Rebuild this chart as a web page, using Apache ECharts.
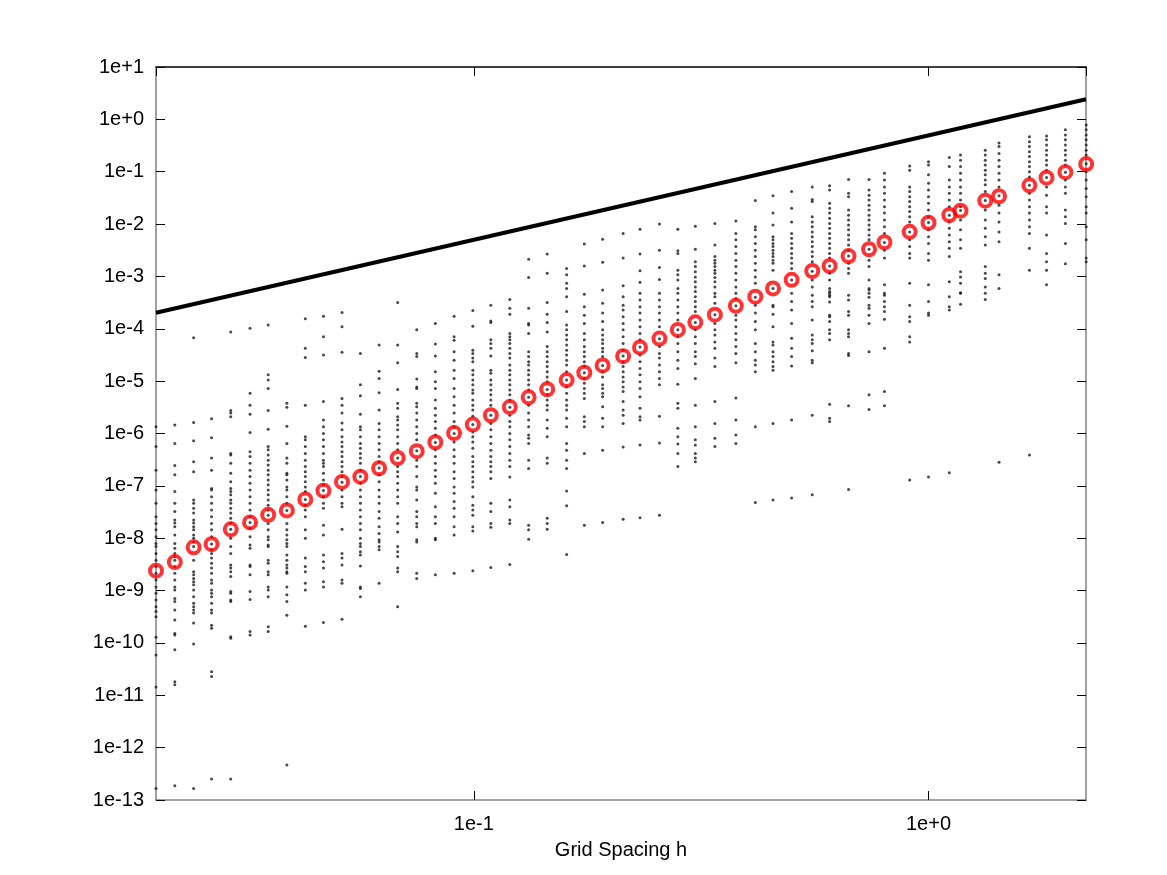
<!DOCTYPE html>
<html><head><meta charset="utf-8">
<script src="https://cdn.jsdelivr.net/npm/echarts@6/dist/echarts.min.js"></script>
<style>html,body{margin:0;padding:0;background:#fff}#c{width:1167px;height:875px}</style>
</head><body><div id="c"></div><script>
// Grid spacing h of each sample column
const gridSpacing = [0.0200,0.0220,0.0242,0.0265,0.0292,0.0322,0.0353,0.0388,0.0426,0.0467,
  0.0513,0.0563,0.0619,0.0680,0.0749,0.0823,0.0905,0.0995,0.109,0.120,
  0.132,0.145,0.160,0.175,0.192,0.213,0.232,0.256,0.281,0.307,
  0.339,0.377,0.416,0.455,0.500,0.555,0.606,0.667,0.740,0.800,
  0.909,1.000,1.111,1.176,1.333,1.429,1.667,1.818,2.000,2.222];
// Red circles: typical error per column
const typicalError = [2.4e-9,3.5e-9,6.7e-9,7.7e-9,1.48e-8,2.0e-8,2.8e-8,3.4e-8,5.5e-8,8.1e-8,
  1.19e-7,1.5e-7,2.17e-7,3.4e-7,4.6e-7,6.8e-7,1.02e-6,1.48e-6,2.23e-6,3.2e-6,
  4.9e-6,7.0e-6,1.05e-5,1.45e-5,2.0e-5,3.0e-5,4.4e-5,6.5e-5,9.5e-5,1.33e-4,
  1.86e-4,2.75e-4,4.1e-4,5.9e-4,8.6e-4,1.27e-3,1.58e-3,2.45e-3,3.3e-3,4.5e-3,
  7.1e-3,1.06e-2,1.49e-2,1.8e-2,2.8e-2,3.4e-2,5.5e-2,7.7e-2,9.8e-2,0.14];
// Individual sample errors, as powers of ten, one list per column
const sampleExponents = [
 [-5.87,-6.25,-6.70,-7.08,-7.33,-7.59,-7.72,-7.84,-7.97,-8.10,-8.16,-8.29,-8.42,-8.54,-8.67,-8.80,-8.93,-9.05,-9.18,-9.31,-9.40,-9.50,-9.89,-10.23,-10.84,-12.78],
 [-5.84,-6.19,-6.61,-6.79,-7.11,-7.33,-7.49,-7.65,-7.71,-7.78,-7.94,-8.10,-8.19,-8.29,-8.35,-8.42,-8.54,-8.67,-8.80,-8.93,-8.99,-9.15,-9.21,-9.37,-9.56,-9.82,-9.85,-10.13,-10.74,-10.80,-12.73],
 [-4.17,-5.79,-6.14,-6.54,-6.73,-7.27,-7.33,-7.43,-7.52,-7.65,-7.71,-7.78,-7.84,-7.94,-8.00,-8.07,-8.16,-8.42,-8.64,-8.70,-8.77,-8.83,-8.89,-8.99,-9.12,-9.24,-9.31,-9.37,-9.43,-9.62,-10.02,-12.78],
 [-5.72,-6.08,-6.47,-6.70,-7.05,-7.08,-7.21,-7.33,-7.46,-7.59,-7.72,-7.84,-7.97,-8.11,-8.22,-8.29,-8.38,-8.48,-8.57,-8.67,-8.80,-8.86,-8.99,-9.05,-9.12,-9.24,-9.37,-9.43,-9.66,-9.72,-10.55,-10.64,-12.60],
 [-4.06,-5.56,-5.61,-5.68,-6.38,-6.41,-6.57,-6.76,-6.92,-7.05,-7.11,-7.17,-7.27,-7.33,-7.43,-7.52,-7.62,-7.71,-7.83,-8.00,-8.16,-8.29,-8.51,-8.57,-8.64,-8.73,-9.02,-9.05,-9.18,-9.21,-9.88,-9.91,-12.60],
 [-3.99,-5.23,-5.46,-5.63,-5.98,-6.35,-6.44,-6.57,-6.70,-6.82,-6.95,-7.08,-7.21,-7.33,-7.46,-7.59,-7.70,-7.81,-7.97,-8.13,-8.19,-8.51,-8.54,-8.70,-9.02,-9.17,-9.78,-9.85],
 [-3.93,-4.88,-4.98,-5.14,-5.56,-5.92,-6.25,-6.31,-6.41,-6.51,-6.60,-6.70,-6.79,-6.89,-6.98,-7.08,-7.17,-7.27,-7.37,-7.46,-7.56,-7.72,-7.84,-7.97,-8.03,-8.13,-8.16,-8.42,-8.48,-8.64,-8.70,-8.93,-8.99,-9.12,-9.69,-9.78],
 [-5.42,-5.50,-5.86,-6.19,-6.47,-6.57,-6.76,-6.79,-6.89,-7.02,-7.08,-7.21,-7.33,-7.47,-7.72,-7.84,-7.94,-8.03,-8.10,-8.16,-8.32,-8.42,-8.51,-8.57,-8.64,-8.67,-8.93,-9.08,-9.21,-9.47,-12.33],
 [-3.81,-4.37,-4.55,-5.46,-6.06,-6.12,-6.25,-6.38,-6.51,-6.63,-6.73,-6.82,-6.92,-7.02,-7.11,-7.26,-7.37,-7.46,-7.59,-7.84,-8.00,-8.38,-8.54,-8.64,-8.86,-8.99,-9.68],
 [-3.76,-4.15,-4.50,-5.39,-5.74,-5.87,-6.00,-6.12,-6.25,-6.38,-6.51,-6.57,-6.63,-6.76,-6.89,-6.98,-7.09,-7.21,-7.33,-7.43,-7.75,-7.94,-8.32,-8.45,-8.57,-8.83,-8.93,-9.61],
 [-3.69,-3.96,-4.45,-5.33,-5.46,-5.61,-5.80,-5.93,-6.06,-6.16,-6.25,-6.35,-6.44,-6.54,-6.63,-6.73,-6.82,-6.93,-7.08,-7.21,-7.33,-7.40,-7.83,-8.29,-8.38,-8.51,-8.80,-8.86,-9.55],
 [-4.47,-5.07,-5.28,-5.63,-5.87,-5.93,-6.06,-6.19,-6.28,-6.38,-6.47,-6.57,-6.70,-6.82,-6.95,-7.08,-7.21,-7.33,-7.46,-7.59,-7.72,-7.84,-8.00,-8.10,-8.16,-8.26,-8.32,-8.53,-8.93,-8.96,-9.12],
 [-4.31,-4.81,-4.95,-5.22,-5.55,-5.81,-5.93,-6.06,-6.19,-6.31,-6.44,-6.54,-6.66,-6.79,-6.92,-7.08,-7.21,-7.33,-7.49,-7.62,-7.78,-7.91,-8.03,-8.07,-8.16,-8.22,-8.86],
 [-3.50,-4.31,-4.65,-5.16,-5.42,-5.52,-5.68,-5.74,-5.84,-5.93,-6.06,-6.19,-6.31,-6.47,-6.63,-6.73,-6.82,-6.95,-7.08,-7.21,-7.33,-7.59,-7.72,-7.88,-8.16,-8.26,-8.35,-8.57,-8.64,-9.31],
 [-4.02,-4.47,-4.53,-4.96,-5.11,-5.14,-5.42,-5.49,-5.61,-5.74,-5.87,-6.00,-6.12,-6.33,-6.51,-6.63,-6.82,-7.02,-7.08,-7.27,-7.49,-7.59,-7.72,-7.78,-8.03,-8.07,-8.67,-8.77],
 [-3.90,-4.29,-4.52,-4.82,-5.01,-5.14,-5.36,-5.52,-5.65,-5.77,-5.90,-6.03,-6.17,-6.31,-6.44,-6.57,-6.70,-6.82,-6.95,-7.14,-7.40,-7.59,-7.72,-8.00,-8.03,-8.70],
 [-3.76,-4.15,-4.22,-4.44,-4.60,-4.79,-4.95,-5.14,-5.30,-5.46,-5.61,-5.77,-5.87,-6.00,-6.16,-6.31,-6.44,-6.57,-6.73,-6.86,-7.02,-7.14,-7.30,-7.43,-7.59,-7.78,-7.94,-8.67],
 [-3.65,-3.95,-4.41,-4.47,-4.56,-4.63,-4.79,-4.88,-4.98,-5.07,-5.17,-5.23,-5.36,-5.46,-5.55,-5.67,-5.83,-5.97,-6.06,-6.16,-6.28,-6.44,-6.54,-6.63,-6.73,-6.83,-6.92,-7.02,-7.21,-7.37,-7.46,-7.56,-7.78,-7.86,-8.62],
 [-3.55,-3.85,-3.88,-4.21,-4.28,-4.37,-4.52,-4.79,-4.85,-4.98,-5.07,-5.17,-5.26,-5.36,-5.46,-5.65,-5.81,-5.93,-6.06,-6.19,-6.32,-6.44,-6.54,-6.63,-6.73,-6.86,-7.33,-7.49,-7.72,-7.79,-8.56],
 [-3.44,-3.61,-3.72,-4.09,-4.15,-4.21,-4.28,-4.37,-4.47,-4.56,-4.69,-4.79,-4.88,-4.98,-5.07,-5.17,-5.26,-5.36,-5.50,-5.65,-5.77,-5.87,-6.00,-6.12,-6.25,-6.38,-6.51,-6.63,-6.83,-7.27,-7.40,-7.65,-7.72,-8.50],
 [-2.67,-3.02,-3.61,-3.90,-3.93,-4.09,-4.44,-4.53,-4.63,-4.69,-4.79,-4.88,-4.98,-5.07,-5.17,-5.31,-5.46,-5.61,-5.74,-5.87,-6.03,-6.09,-6.19,-6.51,-6.67,-7.75,-7.84,-8.02],
 [-2.57,-2.94,-3.50,-3.72,-3.88,-4.06,-4.34,-4.44,-4.53,-4.63,-4.72,-4.82,-4.92,-5.01,-5.16,-5.26,-5.36,-5.46,-5.55,-5.74,-5.90,-6.06,-6.47,-6.57,-7.62,-7.72,-7.83],
 [-2.85,-2.97,-3.13,-3.23,-3.39,-3.67,-3.93,-4.02,-4.12,-4.21,-4.31,-4.41,-4.50,-4.60,-4.69,-4.82,-4.98,-5.11,-5.23,-5.36,-5.46,-5.55,-5.71,-5.87,-6.19,-6.32,-6.51,-6.67,-7.10,-7.38,-8.31],
 [-2.38,-2.80,-3.34,-3.58,-3.74,-3.90,-4.09,-4.21,-4.34,-4.44,-4.53,-4.63,-4.71,-4.84,-4.95,-5.04,-5.14,-5.23,-5.33,-5.68,-5.77,-5.87,-6.38,-7.75],
 [-2.29,-2.73,-3.26,-3.51,-3.70,-3.86,-4.02,-4.12,-4.21,-4.28,-4.37,-4.44,-4.53,-4.70,-4.82,-4.92,-5.07,-5.14,-5.23,-5.30,-5.49,-5.71,-5.87,-6.32,-7.70],
 [-2.18,-2.65,-3.18,-3.39,-3.55,-3.64,-3.77,-3.90,-4.02,-4.15,-4.28,-4.41,-4.52,-4.63,-4.72,-4.82,-4.92,-5.01,-5.11,-5.20,-5.39,-5.55,-5.65,-5.81,-6.26,-7.64],
 [-2.10,-2.57,-2.89,-3.11,-3.32,-3.45,-3.58,-3.70,-3.83,-3.96,-4.09,-4.21,-4.35,-4.50,-4.63,-4.76,-4.88,-5.01,-5.14,-5.30,-5.52,-5.68,-5.74,-6.22,-7.61],
 [-2.00,-2.50,-2.83,-3.06,-3.32,-3.45,-3.58,-3.70,-3.83,-3.96,-4.19,-4.34,-4.47,-4.56,-4.69,-4.82,-4.95,-5.07,-5.67,-6.18,-7.56],
 [-2.10,-2.51,-2.56,-2.88,-2.97,-3.07,-3.23,-3.32,-3.45,-3.58,-3.70,-3.83,-4.02,-4.15,-4.28,-4.44,-4.60,-4.76,-5.06,-5.42,-5.52,-5.90,-6.06,-6.20,-6.38,-6.63],
 [-2.04,-2.48,-2.72,-2.81,-2.91,-3.01,-3.10,-3.20,-3.29,-3.39,-3.48,-3.58,-3.67,-3.88,-4.02,-4.15,-4.28,-4.44,-4.53,-4.67,-4.95,-5.46,-5.87,-6.12,-6.22,-6.38,-6.47,-6.54],
 [-1.99,-2.40,-2.62,-2.69,-2.75,-2.81,-2.88,-2.94,-3.02,-3.10,-3.20,-3.32,-3.39,-3.51,-3.73,-3.90,-4.02,-4.12,-4.25,-4.37,-4.56,-4.72,-5.39,-5.81,-6.09,-6.25],
 [-1.94,-2.18,-2.30,-2.43,-2.56,-2.69,-2.81,-2.94,-3.07,-3.20,-3.32,-3.42,-3.56,-3.74,-3.83,-3.96,-4.09,-4.21,-4.34,-4.47,-4.65,-5.32,-5.74,-6.03,-6.19],
 [-1.55,-2.05,-2.11,-2.24,-2.37,-2.50,-2.62,-2.75,-2.88,-3.01,-3.13,-3.40,-3.55,-3.70,-3.86,-4.02,-4.28,-4.44,-4.60,-4.69,-4.82,-5.87,-7.32],
 [-1.46,-1.79,-2.02,-2.24,-2.30,-2.37,-2.43,-2.50,-2.56,-2.62,-2.69,-2.75,-2.88,-3.23,-3.55,-3.58,-3.72,-3.96,-4.25,-4.31,-4.44,-4.53,-4.63,-4.72,-4.79,-5.81,-7.27],
 [-1.38,-1.70,-1.96,-2.18,-2.27,-2.37,-2.46,-2.56,-2.65,-2.75,-2.85,-3.07,-3.32,-3.48,-3.64,-3.90,-4.18,-4.37,-4.53,-4.71,-5.74,-7.23],
 [-1.29,-1.53,-1.57,-1.86,-1.96,-2.05,-2.15,-2.24,-2.34,-2.43,-2.53,-2.62,-2.72,-2.90,-3.07,-3.20,-3.36,-3.48,-3.58,-3.83,-4.12,-4.21,-4.28,-4.42,-4.60,-4.65,-5.65,-7.17],
 [-1.27,-1.35,-1.60,-1.70,-1.79,-1.89,-1.99,-2.08,-2.18,-2.27,-2.37,-2.46,-2.56,-2.65,-2.80,-2.94,-3.07,-3.23,-3.29,-3.32,-3.36,-3.39,-3.49,-3.74,-3.77,-3.86,-4.02,-4.09,-4.21,-5.44,-5.71,-5.77],
 [-1.15,-1.41,-1.48,-1.73,-1.83,-1.92,-2.02,-2.11,-2.21,-2.30,-2.40,-2.50,-2.61,-2.75,-2.85,-2.94,-3.36,-3.45,-3.67,-3.74,-4.02,-4.09,-4.15,-4.47,-4.51,-5.47,-7.07],
 [-1.15,-1.35,-1.45,-1.54,-1.64,-1.73,-1.83,-1.92,-2.02,-2.11,-2.21,-2.30,-2.48,-2.69,-2.81,-3.07,-3.23,-3.26,-3.32,-3.40,-3.55,-3.61,-3.74,-3.90,-4.44,-5.26,-5.54],
 [-1.03,-1.16,-1.29,-1.41,-1.54,-1.67,-1.79,-1.92,-2.05,-2.18,-2.35,-2.50,-2.65,-3.16,-3.32,-3.36,-3.48,-3.58,-3.67,-3.82,-4.37,-5.20,-5.47],
 [-0.89,-0.97,-1.29,-1.38,-1.48,-1.57,-1.67,-1.76,-1.86,-1.96,-2.15,-2.30,-2.43,-2.56,-2.65,-3.13,-3.55,-3.77,-3.86,-4.15,-4.25,-6.89],
 [-0.81,-0.87,-1.06,-1.22,-1.35,-1.48,-1.60,-1.73,-1.86,-1.97,-2.11,-2.24,-2.37,-2.56,-2.69,-3.16,-3.48,-3.70,-3.74,-6.83],
 [-0.73,-0.90,-1.16,-1.29,-1.41,-1.54,-1.67,-1.83,-1.96,-2.08,-2.21,-2.34,-2.46,-2.62,-3.10,-3.39,-3.58,-3.64,-6.75],
 [-0.68,-0.78,-0.90,-1.03,-1.16,-1.29,-1.41,-1.54,-1.67,-1.74,-1.92,-2.11,-2.30,-2.46,-2.91,-3.01,-3.13,-3.31,-3.32,-3.53],
 [-0.59,-0.68,-0.78,-0.87,-0.97,-1.06,-1.16,-1.25,-1.38,-1.55,-1.73,-1.92,-2.08,-2.24,-2.40,-2.81,-2.94,-3.04,-3.20,-3.32,-3.44],
 [-0.45,-0.52,-0.65,-0.78,-0.90,-1.03,-1.16,-1.29,-1.46,-1.64,-1.79,-1.96,-2.15,-2.34,-2.97,-3.23,-6.55],
 [-0.33,-0.43,-0.52,-0.62,-0.71,-0.81,-0.90,-1.00,-1.10,-1.26,-1.41,-1.54,-1.67,-1.79,-1.92,-2.05,-2.18,-2.46,-2.88,-6.41],
 [-0.32,-0.39,-0.49,-0.59,-0.68,-0.78,-0.87,-0.97,-1.11,-1.29,-1.45,-1.67,-1.79,-2.21,-2.56,-2.72,-2.88,-3.16],
 [-0.20,-0.30,-0.39,-0.49,-0.59,-0.68,-0.78,-0.87,-1.01,-1.16,-1.29,-1.41,-1.73,-1.86,-1.99,-2.37,-2.76],
 [-0.11,-0.20,-0.30,-0.39,-0.49,-0.59,-0.68,-0.85,-1.00,-1.16,-1.32,-1.48,-1.67,-1.79,-2.05,-2.30,-2.65,-2.72]
];
// Reference slope line (end points)
const refLineH = [0.02, 2.22];
const refLineErr = [2.03e-4, 2.42];
// Axis text
const xTickLabels = ['1e-1', '1e+0'];
const yTickLabels = ['1e-13','1e-12','1e-11','1e-10','1e-9','1e-8','1e-7','1e-6','1e-5','1e-4','1e-3','1e-2','1e-1','1e+0','1e+1'];
const xTitle = 'Grid Spacing h';

const FONT = 'Liberation Sans, Arial, sans-serif';
function expLabel(v) {
  const e = Math.log10(v);
  const r = Math.round(e);
  if (!isFinite(e) || Math.abs(e - r) > 1e-6) return '';
  const s = '1e' + (r >= 0 ? '+' : '') + r;
  return (yTickLabels.indexOf(s) >= 0 || xTickLabels.indexOf(s) >= 0) ? s : '';
}

const samplePoints = [];
sampleExponents.forEach((col, i) => col.forEach(e => samplePoints.push([gridSpacing[i], Math.pow(10, e)])));
const circlePoints = gridSpacing.map((h, i) => [h, typicalError[i]]);
const linePoints = refLineH.map((h, i) => [h, refLineErr[i]]);

const xBase = {
  type: 'log', logBase: 10, min: 0.02, max: 2.22,
  splitLine: { show: false }, minorTick: { show: false },
};
const yBase = {
  type: 'log', logBase: 10, min: 1e-13, max: 10, interval: 1,
  splitLine: { show: false }, minorTick: { show: false },
};
const chart = echarts.init(document.getElementById('c'), null, { renderer: 'canvas' });
chart.setOption({
  animation: false,
  backgroundColor: '#ffffff',
  grid: { left: 156, right: 81, top: 67, bottom: 75, containLabel: false },
  xAxis: [
    Object.assign({}, xBase, {
      position: 'bottom',
      axisLine: { show: true, onZero: false, lineStyle: { color: '#808080', width: 1.5 } },
      axisTick: { show: true, inside: true, length: 9, lineStyle: { color: '#000', width: 1 } },
      axisLabel: { show: true, margin: 14, fontSize: 20, color: '#000', fontFamily: FONT, formatter: expLabel, showMinLabel: false, showMaxLabel: false },
      name: xTitle, nameLocation: 'middle', nameGap: 40,
      nameTextStyle: { fontSize: 20, color: '#000', fontFamily: FONT }
    }),
    Object.assign({}, xBase, {
      position: 'top',
      axisLine: { show: true, onZero: false, lineStyle: { color: '#000', width: 1.5 } },
      axisTick: { show: true, inside: true, length: 9, lineStyle: { color: '#000', width: 1 } },
      axisLabel: { show: false }
    })
  ],
  yAxis: [
    Object.assign({}, yBase, {
      position: 'left',
      axisLine: { show: true, onZero: false, lineStyle: { color: '#808080', width: 1.5 } },
      axisTick: { show: true, inside: true, length: 9, lineStyle: { color: '#000', width: 1 } },
      axisLabel: { show: true, margin: 12, fontSize: 20, color: '#000', fontFamily: FONT, formatter: expLabel }
    }),
    Object.assign({}, yBase, {
      position: 'right',
      axisLine: { show: true, onZero: false, lineStyle: { color: '#808080', width: 1.5 } },
      axisTick: { show: true, inside: true, length: 9, lineStyle: { color: '#000', width: 1 } },
      axisLabel: { show: false }
    })
  ],
  series: [
    {
      name: 'samples', type: 'scatter', xAxisIndex: 0, yAxisIndex: 0,
      data: samplePoints, symbol: 'circle', symbolSize: 3, clip: false, silent: true,
      itemStyle: { color: '#1a1a1a' }, z: 2
    },
    {
      name: 'reference', type: 'line', xAxisIndex: 0, yAxisIndex: 0,
      data: linePoints, symbol: 'none', silent: true,
      lineStyle: { color: '#000', width: 4 }, z: 3
    },
    {
      name: 'typical', type: 'scatter', xAxisIndex: 0, yAxisIndex: 0,
      data: circlePoints, symbol: 'circle', symbolSize: 12, clip: false, silent: true,
      itemStyle: { color: 'rgba(255,255,255,0)', borderColor: '#ff0000', borderWidth: 4 }, z: 4
    }
  ]
});
</script></body></html>
